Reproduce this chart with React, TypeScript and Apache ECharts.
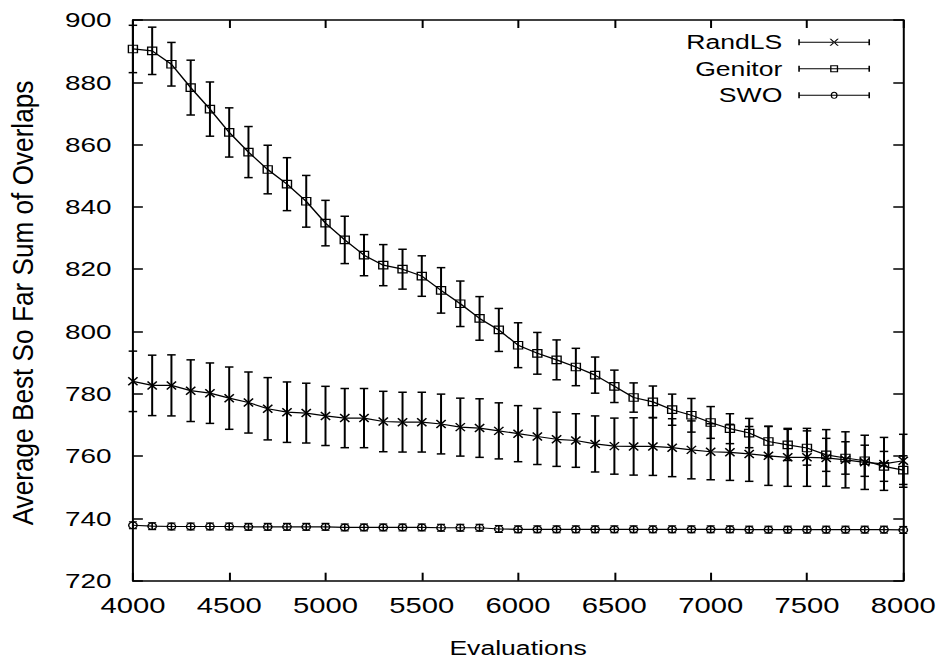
import React, { useEffect, useRef } from "react";
import * as echarts from "echarts";

// ---- data ----
const evaluations = [
  4000, 4100, 4200, 4300, 4400, 4500, 4600, 4700, 4800, 4900,
  5000, 5100, 5200, 5300, 5400, 5500, 5600, 5700, 5800, 5900,
  6000, 6100, 6200, 6300, 6400, 6500, 6600, 6700, 6800, 6900,
  7000, 7100, 7200, 7300, 7400, 7500, 7600, 7700, 7800, 7900,
  8000,
];

const randLS = [
  784.0, 782.7, 782.7, 781.0, 780.2, 778.6, 777.2, 775.2, 774.1, 773.8,
  772.9, 772.2, 772.2, 771.1, 770.9, 770.9, 770.3, 769.3, 769.0, 768.1,
  767.2, 766.3, 765.4, 765.0, 763.9, 763.2, 763.1, 763.1, 762.7, 762.0,
  761.4, 761.2, 760.7, 760.1, 759.6, 759.6, 759.4, 758.8, 758.0, 757.5,
  758.5,
];
const randLSErr = [
  9.7, 9.7, 9.8, 9.9, 9.7, 10.0, 9.8, 10.0, 9.7, 9.6,
  9.5, 9.5, 9.5, 9.7, 9.6, 9.6, 9.6, 9.3, 9.4, 9.0,
  9.0, 9.0, 8.7, 8.6, 9.0, 9.0, 9.2, 9.3, 9.3, 9.3,
  9.0, 9.0, 8.8, 9.5, 9.3, 9.3, 9.1, 9.0, 8.7, 8.5,
  8.5,
];

const genitor = [
  890.7, 890.1, 885.8, 878.3, 871.4, 863.9, 857.6, 852.0, 847.3, 841.8,
  834.8, 829.4, 824.5, 821.3, 820.0, 817.8, 813.2, 808.9, 804.2, 800.5,
  795.6, 793.0, 790.9, 788.6, 786.0, 782.4, 778.8, 777.4, 774.9, 773.1,
  770.8, 768.8, 767.4, 764.7, 763.6, 762.6, 760.4, 759.4, 758.5, 756.7,
  755.5,
];
const genitorErr = [
  7.6, 7.6, 7.0, 8.8, 8.7, 7.9, 8.2, 7.8, 8.5, 8.3,
  7.3, 7.6, 6.6, 6.6, 6.4, 6.5, 7.3, 7.3, 7.0, 6.9,
  7.2, 6.7, 6.4, 6.0, 5.8, 5.2, 4.7, 5.1, 5.0, 5.4,
  5.1, 4.8, 4.7, 4.8, 5.0, 5.5, 5.3, 5.2, 5.0, 4.8,
  4.6,
];

const swo = [
  737.8, 737.5, 737.4, 737.4, 737.4, 737.4, 737.3, 737.3, 737.3, 737.3,
  737.3, 737.1, 737.1, 737.1, 737.1, 737.1, 737.0, 737.0, 737.0, 736.6,
  736.5, 736.5, 736.5, 736.5, 736.5, 736.5, 736.5, 736.5, 736.5, 736.5,
  736.5, 736.5, 736.4, 736.4, 736.4, 736.4, 736.4, 736.4, 736.4, 736.4,
  736.3,
];
const swoErr = [
  1.1, 1.1, 1.1, 1.1, 1.1, 1.1, 1.1, 1.1, 1.1, 1.1,
  1.1, 1.1, 1.1, 1.1, 1.1, 1.1, 1.1, 1.1, 1.1, 1.1,
  1.1, 1.1, 1.1, 1.1, 1.1, 1.1, 1.1, 1.1, 1.1, 1.1,
  1.1, 1.1, 1.1, 1.1, 1.1, 1.1, 1.1, 1.1, 1.1, 1.1,
  1.1,
];

const xTicks = [4000, 4500, 5000, 5500, 6000, 6500, 7000, 7500, 8000];
const yTicks = [720, 740, 760, 780, 800, 820, 840, 860, 880, 900];

// ---- layout: chart is drawn in a narrower logical frame and stretched horizontally ----
const PAGE_W = 941;
const PAGE_H = 663;
const LOGICAL_W = 708;
const SX = PAGE_W / LOGICAL_W;
const FONT = "'Liberation Sans', Arial, Helvetica, sans-serif";

const ICON_X =
  "path://M0 3 H54 V4 H0 Z M0 0.5 H1.2 V6.5 H0 Z M52.8 0.5 H54 V6.5 H52.8 Z " +
  "M23.5 0 H24.7 L30.5 7 H29.3 Z M30.5 0 H29.3 L23.5 7 H24.7 Z";
const ICON_SQ =
  "path://M0 3 H54 V4 H0 Z M0 0.5 H1.2 V6.5 H0 Z M52.8 0.5 H54 V6.5 H52.8 Z " +
  "M24 0 H30 V7 H24 Z M25 1 V6 H29 V1 Z";
const ICON_CI =
  "path://M0 3 H54 V4 H0 Z M0 0.5 H1.2 V6.5 H0 Z M52.8 0.5 H54 V6.5 H52.8 Z " +
  "M29.6 3.5 A2.6 3.5 0 1 1 24.4 3.5 A2.6 3.5 0 1 1 29.6 3.5 Z " +
  "M28.7 3.5 A1.7 2.6 0 1 0 25.3 3.5 A1.7 2.6 0 1 0 28.7 3.5 Z";

function pairs(vals: number[]) {
  return evaluations.map((x, i) => [x, vals[i]]);
}
function errData(vals: number[], errs: number[]) {
  return evaluations.map((x, i) => [x, vals[i] - errs[i], vals[i] + errs[i]]);
}

function errRender(whisker: number, lw: number) {
  return (_params: any, api: any) => {
    const x = api.value(0);
    const lo = api.coord([x, api.value(1)]);
    const hi = api.coord([x, api.value(2)]);
    const style = { stroke: "#000", lineWidth: lw, fill: "none" };
    return {
      type: "group",
      children: [
        { type: "line", shape: { x1: lo[0], y1: lo[1], x2: hi[0], y2: hi[1] }, style },
        { type: "line", shape: { x1: lo[0] - whisker, y1: lo[1], x2: lo[0] + whisker, y2: lo[1] }, style },
        { type: "line", shape: { x1: hi[0] - whisker, y1: hi[1], x2: hi[0] + whisker, y2: hi[1] }, style },
      ],
    };
  };
}

const plainNumber = (v: number) => String(v);

export default function App() {
  const ref = useRef<HTMLDivElement>(null);

  useEffect(() => {
    if (!ref.current) return;
    const chart = echarts.init(ref.current, null, { renderer: "svg" });

    const axisCommon = {
      axisLine: { show: true, onZero: false, lineStyle: { color: "#000", width: 1.5 } },
      splitLine: { show: false },
    };

    const option: any = {
      animation: false,
      backgroundColor: "#fff",
      textStyle: { fontFamily: FONT, color: "#000" },
      grid: { left: 100, right: 28.4, top: 20, bottom: 82.3, containLabel: false },
      xAxis: [
        {
          ...axisCommon,
          type: "value",
          position: "bottom",
          min: xTicks[0],
          max: xTicks[xTicks.length - 1],
          interval: xTicks[1] - xTicks[0],
          axisTick: { show: true, inside: true, length: 8, lineStyle: { color: "#000", width: 1.5 } },
          axisLabel: { show: true, fontSize: 22, color: "#000", fontFamily: FONT, margin: 14, formatter: plainNumber },
          name: "Evaluations",
          nameLocation: "middle",
          nameGap: 57,
          nameTextStyle: { fontSize: 20, color: "#000", fontFamily: FONT },
        },
        {
          ...axisCommon,
          type: "value",
          position: "top",
          min: xTicks[0],
          max: xTicks[xTicks.length - 1],
          interval: xTicks[1] - xTicks[0],
          axisTick: { show: true, inside: true, length: 8, lineStyle: { color: "#000", width: 1.5 } },
          axisLabel: { show: false },
        },
      ],
      yAxis: [
        {
          ...axisCommon,
          type: "value",
          position: "left",
          min: yTicks[0],
          max: yTicks[yTicks.length - 1],
          interval: yTicks[1] - yTicks[0],
          axisTick: { show: true, inside: true, length: 7.5, lineStyle: { color: "#000", width: 1.5 } },
          axisLabel: { show: true, fontSize: 21, color: "#000", fontFamily: FONT, margin: 16, formatter: plainNumber },
        },
        {
          ...axisCommon,
          type: "value",
          position: "right",
          min: yTicks[0],
          max: yTicks[yTicks.length - 1],
          interval: yTicks[1] - yTicks[0],
          axisTick: { show: true, inside: true, length: 7.5, lineStyle: { color: "#000", width: 1.5 } },
          axisLabel: { show: false },
        },
      ],
      legend: {
        show: true,
        orient: "vertical",
        align: "right",
        right: 53.4,
        top: 32.3,
        padding: 0,
        itemGap: 6.5,
        itemWidth: 54,
        itemHeight: 7,
        selectedMode: false,
        itemStyle: { color: "#000", borderWidth: 0 },
        textStyle: { fontSize: 20, color: "#000", fontFamily: FONT, padding: [0, 7, 0, 0] },
        data: [
          { name: "RandLS", icon: ICON_X },
          { name: "Genitor", icon: ICON_SQ },
          { name: "SWO", icon: ICON_CI },
        ],
      },
      graphic: [
        {
          type: "text",
          x: 17.5,
          y: 303,
          rotation: Math.PI / 2,
          scaleX: 1.19,
          style: {
            text: "Average Best So Far Sum of Overlaps",
            fontSize: 22,
            fontFamily: FONT,
            fill: "#000",
            align: "center",
            verticalAlign: "middle",
          },
        },
      ],
      series: [
        {
          name: "RandLS error",
          type: "custom",
          renderItem: errRender(3.2, 1.5),
          data: errData(randLS, randLSErr),
          encode: { x: 0, y: [1, 2] },
          z: 2,
        },
        {
          name: "Genitor error",
          type: "custom",
          renderItem: errRender(3.2, 1.5),
          data: errData(genitor, genitorErr),
          encode: { x: 0, y: [1, 2] },
          z: 2,
        },
        {
          name: "SWO error",
          type: "custom",
          renderItem: errRender(3.0, 1.2),
          data: errData(swo, swoErr),
          encode: { x: 0, y: [1, 2] },
          z: 2,
        },
        {
          name: "RandLS",
          type: "line",
          data: pairs(randLS),
          symbol: "path://M0 0 L8 8 M8 0 L0 8",
          symbolSize: [7, 8],
          showSymbol: true,
          showAllSymbol: true,
          lineStyle: { color: "#000", width: 1.2 },
          itemStyle: { color: "#000", borderColor: "#000", borderWidth: 1.3 },
          z: 3,
        },
        {
          name: "Genitor",
          type: "line",
          data: pairs(genitor),
          symbol: "rect",
          symbolSize: [6.8, 7.5],
          showSymbol: true,
          showAllSymbol: true,
          lineStyle: { color: "#000", width: 1.2 },
          itemStyle: { color: "rgba(255,255,255,0)", borderColor: "#000", borderWidth: 1.1 },
          z: 3,
        },
        {
          name: "SWO",
          type: "line",
          data: pairs(swo),
          symbol: "circle",
          symbolSize: [6.4, 6.6],
          showSymbol: true,
          showAllSymbol: true,
          lineStyle: { color: "#000", width: 1.2 },
          itemStyle: { color: "rgba(255,255,255,0)", borderColor: "#000", borderWidth: 1.1 },
          z: 3,
        },
      ],
    };

    chart.setOption(option);
    return () => chart.dispose();
  }, []);

  return (
    <div
      ref={ref}
      style={{
        position: "absolute",
        left: 0,
        top: 0,
        width: LOGICAL_W,
        height: PAGE_H,
        transform: `scaleX(${SX})`,
        transformOrigin: "0 0",
        background: "#fff",
      }}
    />
  );
}
